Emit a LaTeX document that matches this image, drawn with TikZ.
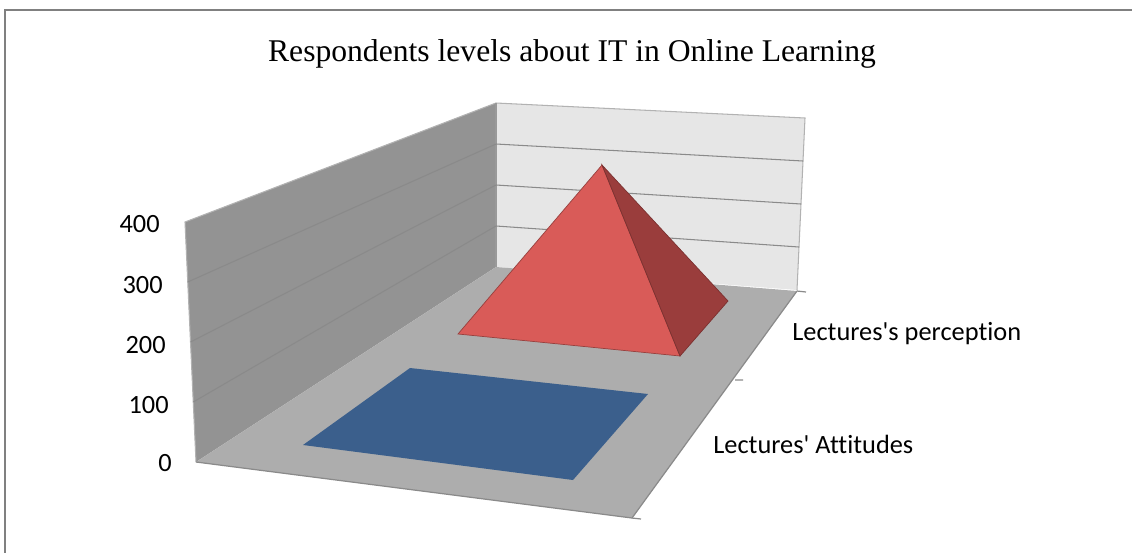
\documentclass[tikz,border=0pt]{standalone}
\usepackage{fontspec}
\setmainfont{Liberation Serif}
\newfontfamily\catfont[Ligatures=NoCommon]{Carlito}
\definecolor{backwall}{HTML}{E6E6E6}
\definecolor{sidewall}{HTML}{939393}
\definecolor{floorgray}{HTML}{ADADAD}
\definecolor{edgegray}{HTML}{8A8A8A}
\definecolor{barblue}{HTML}{3B5F8C}
\definecolor{pyrfront}{HTML}{D95B58}
\definecolor{pyrside}{HTML}{9A3D3C}
\begin{document}
\begin{tikzpicture}[x=0.02cm, y=-0.02cm,
  gridline/.style={edgegray, line width=0.6pt},
  axislbl/.style={font=\catfont\fontsize{15}{18}\selectfont, anchor=east, inner sep=0pt},
  catlbl/.style={font=\catfont\fontsize{15}{18}\selectfont, anchor=west, inner sep=0pt}]
\useasboundingbox (0,0) rectangle (1132,552);
\draw[gray, line width=1pt] (1140,10) -- (5,10) -- (5,560);
\node (title) at (572,54) {\fontsize{18}{22}\selectfont Respondents levels about IT in Online Learning};
% walls and floor
\fill[sidewall] (185,222) -- (496,103) -- (496,267) -- (196,462) -- cycle;
\fill[backwall] (496,103) -- (805,118) -- (797,290) -- (496,267) -- cycle;
\draw[gray!60, line width=0.6pt] (196,462) -- (185,222) -- (496,103) -- (805,118) -- (797,290);
\draw[gray!80, line width=0.6pt] (496,103) -- (496,267);
\foreach \k in {1,2,3} {
  \draw[gridline] ({185+11*\k/4},{222+60*\k}) -- (496,{103+41*\k});
  \draw[gridline] (496,{103+41*\k}) -- ({805-2*\k},{118+43*\k});
}
\fill[floorgray] (196,462) -- (496,267) -- (797,291) -- (632,518) -- cycle;
\draw[edgegray, line width=0.7pt] (196,462) -- (632,518) -- (797,291);
\draw[edgegray, line width=0.7pt] (632,518) -- (641,519) (735,380) -- (743,380) (797,291) -- (806,292);
% series
\fill[barblue] (410,368) -- (648,394) -- (573,480) -- (303,445) -- cycle;
\filldraw[fill=pyrfront, draw=pyrfront!70!black, line width=0.4pt] (602,165) -- (458,334) -- (680,356) -- cycle;
\filldraw[fill=pyrside, draw=pyrside!80!black, line width=0.4pt] (602,165) -- (680,356) -- (728,301) -- cycle;
% labels
\node[axislbl] (v400) at (160,224) {400};
\node[axislbl] (v300) at (163,285) {300};
\node[axislbl] (v200) at (166,345) {200};
\node[axislbl] (v100) at (169,405) {100};
\node[axislbl] (v0) at (172,463) {0};
\node[catlbl] (perc) at (792,334) {Lectures's perception};
\node[catlbl] (att) at (713,444) {Lectures' Attitudes};
\end{tikzpicture}
\end{document}
